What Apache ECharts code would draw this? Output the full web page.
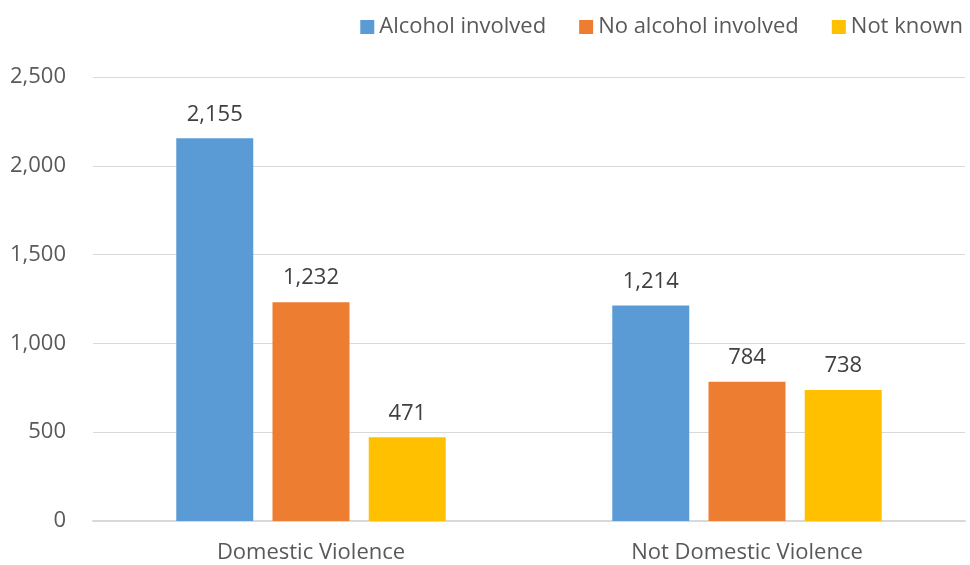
<!DOCTYPE html>
<html>
<head>
<meta charset="utf-8">
<script src="https://cdn.jsdelivr.net/npm/echarts@6/dist/echarts.min.js"></script>
<style>
  html, body { margin: 0; padding: 0; background: #fff; }
  #chart { width: 970px; height: 565px; }
</style>
</head>
<body>
<div id="chart"></div>
<script>
// Incident counts split by whether alcohol was involved
const categories = ['Domestic Violence', 'Not Domestic Violence'];
const seriesNames = ['Alcohol involved', 'No alcohol involved', 'Not known'];
const alcoholInvolved = [2155, 1214];
const noAlcoholInvolved = [1232, 784];
const notKnown = [471, 738];
const seriesColors = ['#5B9BD5', '#ED7D31', '#FFC000'];

const FONT = 'Open Sans';
const values = [alcoholInvolved, noAlcoholInvolved, notKnown];

const chart = echarts.init(document.getElementById('chart'));
chart.setOption({
  animation: false,
  textStyle: { fontFamily: FONT },
  legend: {
    top: 11,
    right: 2,
    itemWidth: 14,
    itemHeight: 14,
    itemGap: 33,
    icon: 'rect',
    textStyle: { fontSize: 22, color: '#595959', fontFamily: FONT, padding: [0, 0, 0, 0] },
    data: seriesNames
  },
  grid: { left: 93, right: 5, top: 77, bottom: 44, containLabel: false },
  xAxis: {
    type: 'category',
    data: categories,
    axisLine: { lineStyle: { color: '#D9D9D9', width: 2 } },
    axisTick: { show: false },
    axisLabel: { fontSize: 22, color: '#595959', margin: 21, fontFamily: FONT }
  },
  yAxis: {
    type: 'value',
    min: 0,
    max: 2500,
    interval: 500,
    axisLine: { show: false },
    axisTick: { show: false },
    splitLine: { lineStyle: { color: '#D9D9D9', width: 1 } },
    axisLabel: {
      fontSize: 22,
      color: '#595959',
      margin: 27,
      fontFamily: FONT,
      formatter: v => v.toLocaleString('en-US')
    }
  },
  series: values.map((arr, i) => ({
    name: seriesNames[i],
    type: 'bar',
    data: arr,
    barWidth: 77,
    barGap: '25%',
    itemStyle: { color: seriesColors[i] },
    label: {
      show: true,
      position: 'top',
      distance: 13,
      fontSize: 22,
      color: '#404040',
      fontFamily: FONT,
      formatter: p => p.value.toLocaleString('en-US')
    }
  }))
});
</script>
</body>
</html>
